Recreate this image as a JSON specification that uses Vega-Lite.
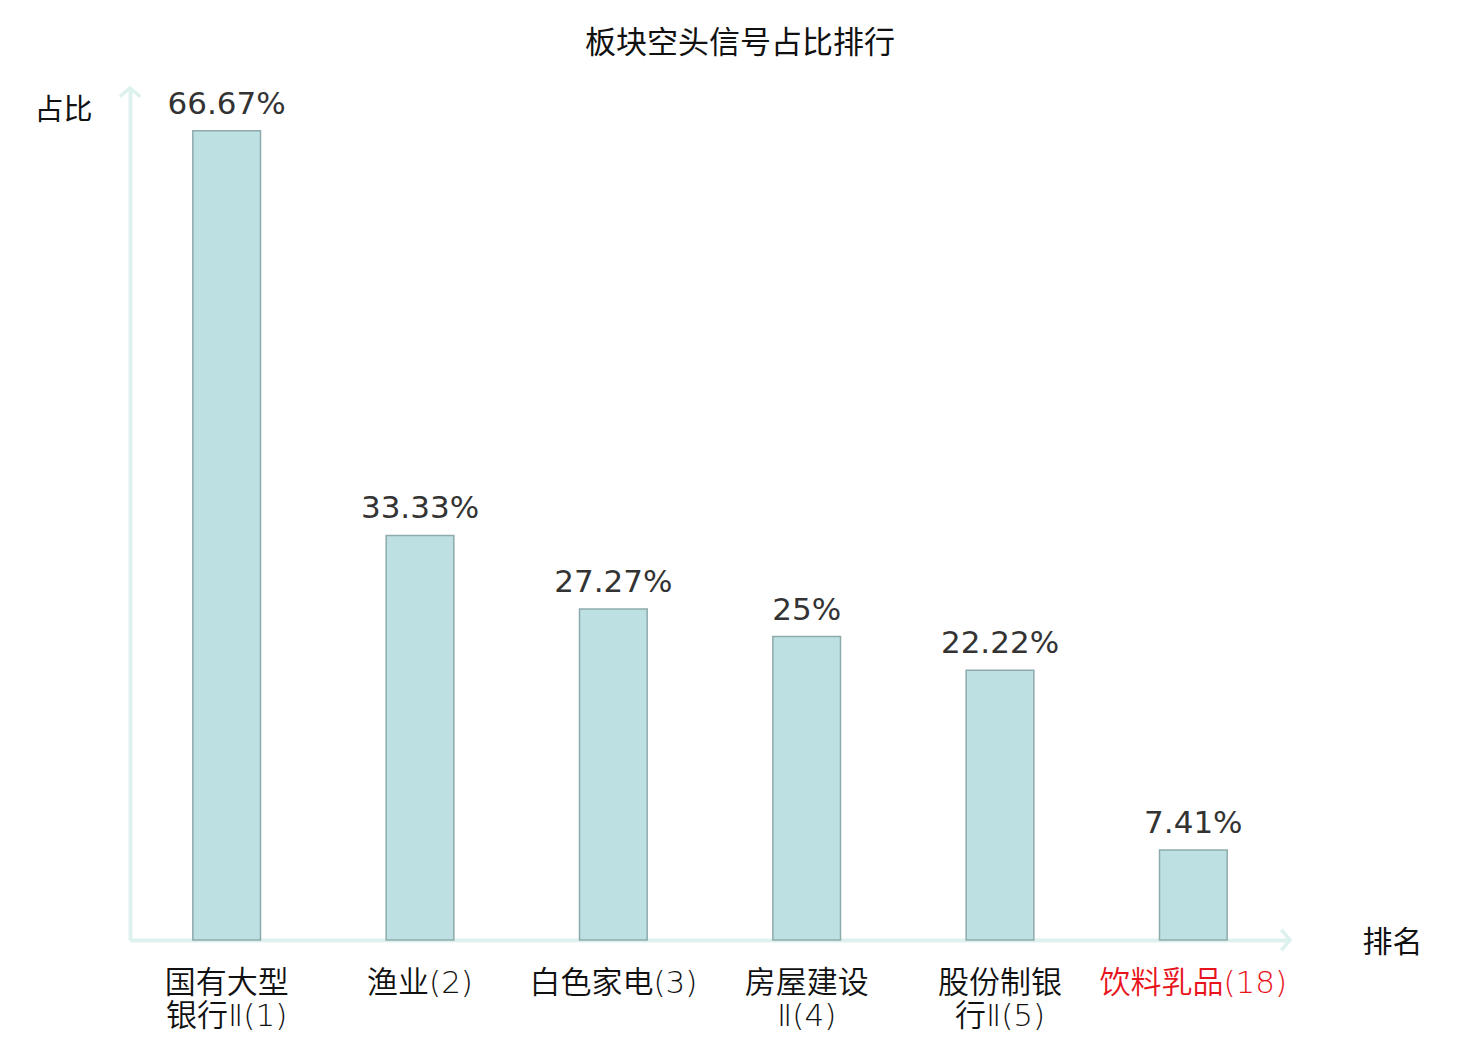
{
  "$schema": "https://vega.github.io/schema/vega-lite/v6.json",
  "width": 1160,
  "height": 852,
  "autosize": {"type": "none"},
  "padding": {"left": 130, "top": 88, "right": 190, "bottom": 100},
  "background": "white",
  "title": {
    "text": "板块空头信号占比排行",
    "font": "Noto Sans CJK SC",
    "fontSize": 31,
    "fontWeight": "normal",
    "color": "#111",
    "anchor": "middle",
    "dx": 30,
    "baseline": "alphabetic",
    "offset": -3
  },
  "config": {"view": {"stroke": null}},
  "data": {
    "values": [
      {"sector": "国有大型|银行Ⅱ(1)", "share": 66.67, "label": "66.67%"},
      {"sector": "渔业(2)", "share": 33.33, "label": "33.33%"},
      {"sector": "白色家电(3)", "share": 27.27, "label": "27.27%"},
      {"sector": "房屋建设|Ⅱ(4)", "share": 25, "label": "25%"},
      {"sector": "股份制银|行Ⅱ(5)", "share": 22.22, "label": "22.22%"},
      {"sector": "饮料乳品(18)", "share": 7.41, "label": "7.41%"}
    ]
  },
  "encoding": {
    "x": {
      "field": "sector",
      "type": "nominal",
      "sort": null,
      "scale": {"paddingInner": 0.65, "paddingOuter": 0.325},
      "axis": {
        "title": "排名",
        "titleFont": "Noto Sans CJK SC",
        "titleFontSize": 30,
        "titleFontWeight": "normal",
        "titleColor": "#111",
        "titleAngle": 0,
        "titleAlign": "center",
        "titleBaseline": "middle",
        "titleX": 1262,
        "titleY": 2,
        "labelExpr": "split(datum.label, '|')",
        "labelAngle": 0,
        "labelFont": "DejaVu Sans, Noto Sans CJK SC",
        "labelFontWeight": 350,
        "labelFontSize": 31,
        "labelLineHeight": 33,
        "labelPadding": 28,
        "labelLimit": 0,
        "labelOverlap": false,
        "labelColor": {
          "condition": {"test": "datum.value == '饮料乳品(18)'", "value": "#e8141c"},
          "value": "#111"
        },
        "ticks": false,
        "domainColor": "#ddf1ee",
        "domainWidth": 4
      }
    },
    "y": {
      "field": "share",
      "type": "quantitative",
      "scale": {"domain": [0, 70.2], "nice": false},
      "axis": {
        "title": "占比",
        "titleFont": "Noto Sans CJK SC",
        "titleFontSize": 29,
        "titleFontWeight": "normal",
        "titleColor": "#111",
        "titleAngle": 0,
        "titleAlign": "center",
        "titleBaseline": "middle",
        "titleX": -67,
        "titleY": 22,
        "labels": false,
        "ticks": false,
        "grid": false,
        "domainColor": "#ddf1ee",
        "domainWidth": 4
      }
    }
  },
  "layer": [
    {
      "mark": {"type": "bar", "fill": "#bde0e3", "stroke": "#8eaaab", "strokeWidth": 1.5}
    },
    {
      "mark": {
        "type": "text",
        "font": "DejaVu Sans",
        "fontSize": 31,
        "color": "#333",
        "baseline": "alphabetic",
        "dy": -17
      },
      "encoding": {"text": {"field": "label"}}
    },
    {
      "data": {"values": [{"end": "y"}]},
      "mark": {
        "type": "point",
        "shape": "M-1,0.85L0,0L1,0.85",
        "size": 420,
        "filled": false,
        "stroke": "#ddf1ee",
        "strokeWidth": 3.5,
        "opacity": 1
      },
      "encoding": {
        "x": {"value": 0},
        "y": {"value": 0}
      }
    },
    {
      "data": {"values": [{"end": "x"}]},
      "mark": {
        "type": "point",
        "shape": "M-0.85,-1L0,0L-0.85,1",
        "size": 420,
        "filled": false,
        "stroke": "#ddf1ee",
        "strokeWidth": 3.5,
        "opacity": 1
      },
      "encoding": {
        "x": {"value": "width"},
        "y": {"value": "height"}
      }
    }
  ]
}
